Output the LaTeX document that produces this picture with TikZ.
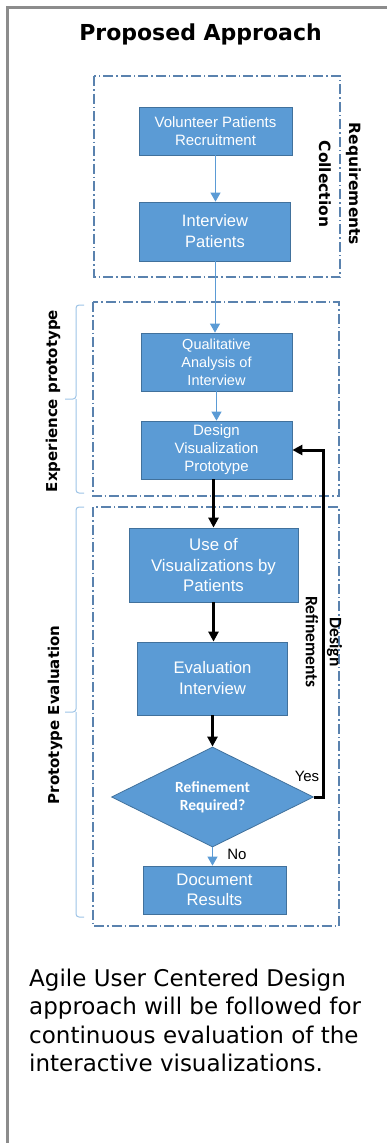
\documentclass[tikz,border=0pt]{standalone}
\usepackage{fontspec}
\newfontfamily\dvs{DejaVu Sans}
\newfontfamily\lsans{Liberation Sans}
\newfontfamily\carl{Carlito}
\usetikzlibrary{arrows.meta,shapes.geometric}
\definecolor{boxblue}{HTML}{5B9BD5}
\definecolor{boxedge}{HTML}{41719C}
\definecolor{framec}{HTML}{5A82AE}
\definecolor{bracec}{HTML}{9DC3E6}
\definecolor{outerc}{HTML}{8C8C8C}
\tikzset{
  procbox/.style={draw=boxedge, line width=0.8pt, fill=boxblue, text=white, align=center, inner sep=0pt},
  lightarrow/.style={draw=boxblue, line width=1pt, -{Triangle[width=10pt,length=9pt]}},
  blackarrow/.style={draw=black, line width=3pt, -{Triangle[width=10pt,length=10pt]}},
  frame/.style={draw=framec, line width=1.1pt, dash pattern=on 10pt off 3pt on 1.5pt off 3pt},
  bracket/.style={draw=bracec, line width=1pt, rounded corners=3pt},
  sidelabel/.style={font={\dvs\bfseries\fontsize{15}{18}\selectfont}},
  paraline/.style={anchor=base west, inner sep=0pt, font={\dvs\fontsize{23}{29}\selectfont}},
}
\begin{document}
\begin{tikzpicture}[x=1pt,y=-1pt]
\useasboundingbox (0,0) rectangle (387,1143);
% outer border
\draw[outerc, line width=2.5pt] (7.5,1143) -- (7.5,7.5) -- (387,7.5);
% title
\node[anchor=base, inner sep=0pt, font={\dvs\bfseries\fontsize{22}{26}\selectfont}] (title) at (200.5,40) {Proposed Approach};
% frames
\draw[frame] (94,76) rectangle (340,277);
\draw[frame] (93,302) rectangle (339,496);
\draw[frame] (93,507) rectangle (339,926);
% brackets
\draw[bracket] (84,305) -- (76,305) -- (76,399) -- (65,399) (76,399) -- (76,493) -- (84,493);
\draw[bracket] (84,507) -- (76,507) -- (76,712) -- (65,712) (76,712) -- (76,917) -- (84,917);
% side labels
\node[sidelabel, rotate=90] (exp) at (53,401) {Experience prototype};
\node[sidelabel, rotate=90] (peval) at (55,715) {Prototype Evaluation};
\node[font={\dvs\bfseries\fontsize{15.5}{30}\selectfont}, rotate=-90, align=center] (req) at (340,184) {Requirements\\Collection};
% boxes
\node[procbox, minimum width=153pt, minimum height=48pt, font={\lsans\fontsize{15}{18}\selectfont}] (b1) at (215.5,131) {Volunteer Patients\\Recruitment};
\node[procbox, minimum width=151pt, minimum height=59pt, font={\lsans\fontsize{16.5}{21}\selectfont}] (b2) at (215,231.5) {Interview\\Patients};
\node[procbox, minimum width=151pt, minimum height=58pt, font={\lsans\fontsize{14.5}{18}\selectfont}] (b3) at (216.5,362) {Qualitative\\Analysis of\\Interview};
\node[procbox, minimum width=151pt, minimum height=58pt, font={\lsans\fontsize{15}{18}\selectfont}] (b4) at (216.5,450) {Design\\Visualization\\Prototype};
\node[procbox, minimum width=169pt, minimum height=74pt, font={\lsans\fontsize{16.8}{20.5}\selectfont}] (b5) at (213.5,565) {Use of\\Visualizations by\\Patients};
\node[procbox, minimum width=150pt, minimum height=73pt, font={\lsans\fontsize{16.7}{21}\selectfont}] (b6) at (212.5,678.5) {Evaluation\\Interview};
\node[procbox, shape=diamond, aspect=2, minimum width=202pt, minimum height=100pt, font={\carl\bfseries\fontsize{15.5}{18}\selectfont}] (dia) at (212.5,797) {Refinement\\Required?};
\node[procbox, minimum width=143pt, minimum height=48pt, font={\lsans\fontsize{16.7}{20}\selectfont}] (b7) at (214.5,890) {Document\\Results};
% labels
\node[font={\lsans\fontsize{15}{18}\selectfont}] (yes) at (307,776) {Yes};
\node[font={\lsans\fontsize{15}{18}\selectfont}] (no) at (237,854) {No};
\node[font={\carl\bfseries\fontsize{17.5}{24}\selectfont}, rotate=-90, align=center] (dr) at (324,642) {Design\\Refinements};
% connectors
\draw[lightarrow] (b1.south) -- (b1.south |- b2.north);
\draw[lightarrow] (b2.south) -- (b2.south |- b3.north);
\draw[lightarrow] (b3.south) -- (b3.south |- b4.north);
\draw[blackarrow] (b5.north |- b4.south) -- (b5.north);
\draw[blackarrow] (b5.south) -- (b5.south |- b6.north);
\draw[blackarrow] (b6.south) -- (dia.north);
\draw[lightarrow] (dia.south) -- (dia.south |- b7.north);
\draw[blackarrow] (dia.east) -- ++(10,0) |- (b4.east);
% paragraph
\node[paraline] (p1) at (29,986) {Agile User Centered Design};
\node[paraline] (p2) at (29,1014.5) {approach will be followed for};
\node[paraline] (p3) at (29,1043) {continuous evaluation of the};
\node[paraline] (p4) at (29,1071.5) {interactive visualizations.};
\end{tikzpicture}
\end{document}
